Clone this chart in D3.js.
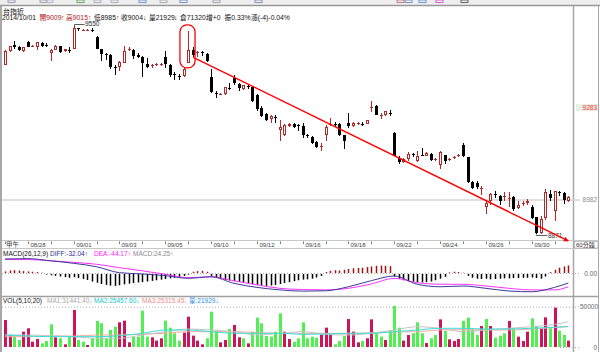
<!DOCTYPE html>
<html>
<head>
<meta charset="utf-8">
<title>台指近 60分鐘</title>
<style>
  html, body { margin: 0; padding: 0; background: #fff; }
  svg { display: block; }
  text { font-family: "Liberation Sans", "Noto Sans CJK TC", sans-serif; }
</style>
</head>
<body>
<svg id="chart" width="600" height="352"></svg>
<script src="https://cdn.jsdelivr.net/npm/d3@7"></script>
<script>
// 60-minute bars, 5 per trading day, 2014/08/27 .. 2014/10/01
const dayLabels = ['08/27','08/28','08/29','09/01','09/02','09/03','09/04','09/05','09/09','09/10',
  '09/11','09/12','09/15','09/16','09/17','09/18','09/19','09/22','09/23','09/24',
  '09/25','09/26','09/29','09/30','10/01'];

const opens = [9425,9471,9488,9484,9471,9498,9485,9483,9497,9489,
  9463,9474,9485,9470,9473,9477,9544,9537,9537,9539,
  9515,9475,9459,9458,9417,9418,9430,9473,9473,9458,
  9450,9428,9419,9424,9424,9449,9425,9393,9388,9387,
  9430,9472,9462,9465,9461,9383,9332,9328,9329,9350,
  9381,9363,9346,9356,9351,9327,9283,9265,9248,9255,
  9210,9194,9223,9232,9227,9223,9195,9189,9171,9157,
  9196,9230,9232,9231,9194,9234,9225,9231,9232,9232,
  9284,9288,9257,9259,9268,9201,9119,9106,9116,9131,
  9108,9130,9127,9134,9113,9098,9128,9113,9118,9126,
  9163,9122,9041,9038,9020,8958,8978,9001,8996,8993,
  8987,8991,8956,8971,8971,8958,8925,8874,8923,9002,
  8945,9009,9005,8978];
const highs = [9472,9487,9501,9486,9484,9503,9490,9499,9498,9495,
  9476,9489,9487,9477,9482,9550,9546,9540,9540,9544,
  9518,9477,9464,9460,9423,9438,9485,9482,9475,9462,
  9452,9447,9427,9430,9431,9468,9427,9401,9394,9414,
  9534,9482,9468,9468,9463,9412,9338,9333,9353,9365,
  9390,9365,9359,9362,9354,9329,9289,9267,9261,9259,
  9245,9231,9234,9234,9231,9234,9198,9191,9174,9168,
  9226,9250,9237,9234,9196,9267,9237,9237,9237,9245,
  9307,9292,9267,9274,9278,9205,9125,9119,9138,9136,
  9141,9152,9138,9136,9119,9143,9130,9119,9126,9133,
  9168,9124,9043,9043,9027,8980,9005,9013,8998,9008,
  9008,8994,8978,8980,8985,8967,8927,8929,9019,9016,
  9012,9013,9008,8994];
const lows = [9424,9465,9477,9470,9467,9482,9482,9474,9484,9482,
  9438,9472,9463,9467,9463,9476,9536,9536,9536,9531,
  9475,9438,9441,9412,9392,9403,9429,9468,9444,9448,
  9383,9414,9414,9419,9419,9414,9385,9376,9376,9384,
  9429,9449,9449,9452,9434,9332,9316,9325,9327,9343,
  9359,9340,9343,9346,9303,9272,9253,9239,9234,9234,
  9174,9191,9221,9218,9207,9185,9185,9165,9152,9141,
  9174,9223,9220,9190,9149,9218,9222,9226,9223,9231,
  9270,9259,9248,9257,9256,9125,9101,9104,9111,9122,
  9106,9125,9125,9109,9111,9085,9100,9109,9115,9122,
  9123,9038,9019,9019,8997,8936,8967,8989,8967,8978,
  8958,8945,8954,8961,8967,8921,8871,8872,8918,8980,
  8912,8994,8969,8975];
const closes = [9471,9486,9482,9472,9482,9483,9487,9498,9486,9487,
  9474,9487,9466,9476,9471,9545,9540,9539,9539,9536,
  9477,9460,9456,9416,9415,9432,9471,9475,9452,9450,
  9430,9416,9424,9426,9426,9427,9392,9390,9386,9411,
  9472,9458,9465,9462,9436,9335,9330,9330,9351,9347,
  9365,9349,9357,9351,9305,9281,9256,9245,9256,9251,
  9222,9229,9231,9220,9225,9194,9192,9168,9154,9159,
  9220,9232,9230,9194,9174,9223,9234,9233,9230,9243,
  9286,9261,9259,9272,9266,9127,9105,9116,9134,9129,
  9127,9128,9136,9112,9115,9138,9111,9115,9124,9128,
  9125,9041,9021,9026,9022,8972,9002,8998,8980,8995,
  8990,8954,8967,8973,8980,8923,8874,8920,9008,8989,
  9010,9007,8983,8991];

const volumes = [33500,14900,12800,8700,19000,23200,6600,9900,4500,7400,
  28100,12000,10800,3300,12800,45900,8700,6600,2500,10800,
  32300,29400,10800,21100,25200,30600,32700,5800,12800,12800,
  45100,12800,12000,7900,10800,32700,24000,17000,7900,17800,
  37600,14100,7900,3300,10800,43800,19900,5800,8700,22300,
  27300,12000,10800,4500,19000,36400,29400,13600,12800,19000,
  41800,19000,9900,6600,10800,30600,10800,12800,11600,15300,
  24000,14900,3300,7400,13600,34700,19000,5800,7400,10800,
  34300,17000,12800,8700,21100,50860,24000,7900,14900,17000,
  30600,17000,4900,10800,14900,34300,19900,9500,7400,9900,
  32300,36400,21900,14900,26000,34700,26000,11600,14100,17000,
  32300,23200,12800,7400,19000,35600,26000,22300,36800,23200,
  48800,20200,14900,7900];
// colour of each volume bar: u = crimson, d = green
const volDir = ('uudduuuudd' + 'dudududdud' + 'ddddduuudd' + 'dduuuddddu' + 'uuuuddduud' +
  'uududddddd' + 'duudd' + 'dddduuuddd' + 'uuuduuddud' + 'dduudddudd' + 'uduuuddddu' +
  'duddduduuu' + 'dduududdu').split('');

const macdHist = [5,8,9,8,6,5,4,3,1,
  -2,-4,-6,-8,-10,-12,-10,-13,-16,-19,-24,-28,-32,-35,-37,
  -38,-36,-33,-31,-29,-27,-26,-24,-22,-20,-18,-16,-14,-12,-9,-6,
  -2,4,6,7,4,
  -6,-12,-16,-19,-21,-23,-25,-27,-29,-32,-35,-37,-38,-37,-35,-32,-29,-26,-23,-20,
  -18,-17,-15,-11,-6,
  3,7,9,8,10,13,15,16,17,19,21,23,24,23,22,
  -8,-16,-20,-23,-25,-27,-27,-26,-24,-20,-15,-9,
  2,4,3,1,
  -6,-12,-15,-16,-15,-17,-16,-15,-14,-14,-13,-13,-12,-12,-11,-13,-15,
  -8,3,10,17,21,24.25];

// line indicators read at the first bar of every day (and the last bar)
const sampleBars = [0,5,10,15,20,25,30,35,40,45,50,55,60,65,70,75,80,85,90,95,100,105,110,115,120,123];
const diffLine = [45,46,39,31,20,1,-3,-8.5,-17,-12,-33,-46,-54,-58,-57,-44,-24.5,-9.6,-36,-44,-41.6,-49,-57.6,-60,-46,-32.04];
const deaLine = [43,43,39,34,28,17,7,-4,-15,-12,-25,-38,-49,-53,-54,-49,-35,-17,-31,-36,-36,-41.6,-49,-54,-54,-44.17];
const volMa1 = [14900,14900,14000,12800,10800,10800,14900,19000,22300,21100,19000,14900,17000,19000,15700,14900,17000,21100,25200,23200,19000,21100,23200,25200,28000,31441];
const volMa2 = [14900,13600,12800,12800,12800,14000,17000,21100,21100,19000,17000,17000,17000,15700,16000,17000,17000,19000,21100,23200,23200,22300,22300,23200,24500,25457];
const volMa3 = [12800,12800,13600,13600,14900,14900,16000,17000,19000,19000,19000,18000,17000,17000,17000,17000,17500,18500,19000,21100,21500,21100,21100,22300,24000,25315];

const priceMarks = [9283, 8982];
const highMark = { bar: 15, price: 9550 };
const lowMark = { bar: 116, price: 8871 };
const circleBars = [38.2, 41.5], circlePrices = [9555, 9414];
const trendBars = [41.1, 123], trendPrices = [9449, 8848];

const svg = d3.select('#chart');
const RED = '#b02828', CANDLE_BLACK = '#000';

const x = d3.scaleLinear().domain([0, opens.length - 1]).range([5, 568.3]);
const yP = d3.scaleLinear().domain([8982, 9283]).range([200, 108]);
const yM = d3.scaleLinear().domain([-32, 0]).range([283, 273]);
const yV = d3.scaleLinear().domain([0, 50000]).range([347, 306.7]);
const col = i => Math.round(x(i));
const half = v => Math.round(v) + 0.5;

// frame
svg.append('rect').attr('width', 600).attr('height', 5).attr('fill', '#eeeeee');
const icons = [[8,'#8090b0'],[40,'#9090a0'],[46,'#b0b0c0'],[77,'#40a040'],[94,'#a0a0b0'],[111,'#a0a0b0'],[139,'#5080d0'],[160,'#a0a0a0'],[180,'#6080c0'],[213,'#9090a0'],[255,'#7080a0'],[397,'#c06060'],[405,'#6080c0'],[419,'#5080d0'],[436,'#d040d0'],[461,'#404040']];
svg.append('g').selectAll('rect').data(icons).join('rect')
  .attr('x', d => d[0]).attr('y', 0).attr('width', 7).attr('height', 2.5)
  .attr('fill', 'none').attr('stroke', d => d[1]).attr('stroke-width', 0.8);
svg.append('line').attr('x1', 0).attr('x2', 600).attr('y1', 5.5).attr('y2', 5.5)
  .attr('stroke', '#999').attr('stroke-width', 1.6);

const frame = svg.append('g').attr('stroke', '#a8a8a8').attr('fill', 'none');
frame.append('line').attr('x1', 1).attr('x2', 1).attr('y1', 6).attr('y2', 352).attr('stroke-width', 2);
frame.append('line').attr('x1', 573.5).attr('x2', 573.5).attr('y1', 6).attr('y2', 352).attr('stroke-width', 1.5);
frame.append('line').attr('x1', 598.5).attr('x2', 598.5).attr('y1', 6).attr('y2', 352);
frame.append('line').attr('x1', 2).attr('x2', 599).attr('y1', 240.5).attr('y2', 240.5).attr('stroke', '#c8c8c8');
frame.append('line').attr('x1', 2).attr('x2', 599).attr('y1', 248.5).attr('y2', 248.5).attr('stroke', '#c8c8c8');
frame.append('line').attr('x1', 2).attr('x2', 599).attr('y1', 296.5).attr('y2', 296.5).attr('stroke', '#a0a0a0').attr('stroke-width', 1.5);

// header text
svg.append('text').attr('x', 3).attr('y', 13.5).attr('font-size', 7).attr('fill', '#111').text('台指近');
const info = [
  [2, '2014/10/01', '#111'], [39.5, '開9009', '#b01818'], [61, '↑', '#c02020'],
  [66, '高9015', '#b01818'], [88, '↑', '#c02020'], [94, '低8985', '#111'], [116, '↑', '#a02020'],
  [121, '收9004', '#111'], [143, '↓', '#111'], [149, '量21929', '#111'], [174, '↓', '#111'],
  [180, '倉71320', '#111'], [206, '增+0', '#111'], [224.5, '振0.33%', '#111'], [251, '漲(-4)-0.04%', '#111']];
svg.append('g').selectAll('text').data(info).join('text')
  .attr('x', d => d[0]).attr('y', 19.5).attr('font-size', 6.8).attr('fill', d => d[2]).text(d => d[1]);

// reference line and right labels
svg.append('line').attr('x1', 2).attr('x2', 580).attr('y1', half(yP(8982)) - 0.5).attr('y2', half(yP(8982)) - 0.5)
  .attr('stroke', '#d4d4d4').attr('stroke-width', 1.5);
svg.append('rect').attr('x', 576).attr('y', yP(priceMarks[0]) - 4).attr('width', 22).attr('height', 7).attr('fill', '#e4f1e4');
svg.selectAll('text.pl').data(priceMarks).join('text').attr('class', 'pl')
  .attr('x', 597).attr('y', d => yP(d) + 1.8).attr('text-anchor', 'end').attr('font-size', 6.5)
  .attr('fill', (d, i) => i === 0 ? '#ff2a2a' : '#8a8a8a').text(d => d);

// candles
const candles = svg.append('g');
d3.range(opens.length).forEach(i => {
  const o = opens[i], h = highs[i], l = lows[i], c = closes[i];
  const n = col(i), up = c >= o;
  const top = Math.round(yP(Math.max(o, c))), bot = Math.round(yP(Math.min(o, c)));
  const yh = Math.round(yP(h)), yl = Math.round(yP(l));
  const color = up ? RED : CANDLE_BLACK;
  if (up) {
    if (yh < top) candles.append('line').attr('x1', n + 0.5).attr('x2', n + 0.5).attr('y1', yh).attr('y2', top).attr('stroke', color);
    if (yl > bot) candles.append('line').attr('x1', n + 0.5).attr('x2', n + 0.5).attr('y1', bot).attr('y2', yl).attr('stroke', color);
    if (bot - top < 2) {
      candles.append('line').attr('x1', n - 1).attr('x2', n + 2).attr('y1', top + 0.5).attr('y2', top + 0.5).attr('stroke', color);
    } else {
      candles.append('rect').attr('x', n - 0.5).attr('y', top + 0.5).attr('width', 2).attr('height', bot - top - 1)
        .attr('fill', '#fff').attr('stroke', color);
    }
  } else {
    candles.append('line').attr('x1', n + 0.5).attr('x2', n + 0.5).attr('y1', yh).attr('y2', yl).attr('stroke', color);
    candles.append('rect').attr('x', n - 1).attr('y', top).attr('width', 3).attr('height', Math.max(1, bot - top)).attr('fill', color);
  }
});

// high / low markers
const hx = col(highMark.bar) + 0.5, hy = Math.round(yP(highMark.price)) - 1.5;
svg.append('path').attr('d', `M${hx},${hy + 2}V${hy}H${hx + 10}`).attr('fill', 'none').attr('stroke', '#333').attr('stroke-width', 0.8);
svg.append('text').attr('x', hx + 10.5).attr('y', hy + 1.5).attr('font-size', 6.5).attr('fill', '#222').text(highMark.price);
const lx = col(lowMark.bar) + 0.5, ly = Math.round(yP(lowMark.price)) + 1.5;
svg.append('path').attr('d', `M${lx},${ly - 1}V${ly}H${lx + 11}`).attr('fill', 'none').attr('stroke', '#333').attr('stroke-width', 0.8);
svg.append('text').attr('x', lx + 11.5).attr('y', ly + 2.5).attr('font-size', 6.5).attr('fill', '#333').text(lowMark.price);

// annotations
svg.append('defs').append('marker').attr('id', 'arr').attr('viewBox', '0 0 10 10')
  .attr('refX', 9).attr('refY', 5).attr('markerWidth', 6).attr('markerHeight', 5).attr('orient', 'auto')
  .attr('markerUnits', 'userSpaceOnUse')
  .append('path').attr('d', 'M0,0L10,5L0,10Z').attr('fill', '#ff0000');
svg.append('rect').attr('x', x(circleBars[0])).attr('y', yP(circlePrices[0]))
  .attr('width', x(circleBars[1]) - x(circleBars[0])).attr('height', yP(circlePrices[1]) - yP(circlePrices[0]))
  .attr('rx', 7).attr('fill', 'none').attr('stroke', '#ff0000').attr('stroke-width', 1.3);
svg.append('line').attr('x1', x(trendBars[0])).attr('y1', yP(trendPrices[0]))
  .attr('x2', x(trendBars[1])).attr('y2', yP(trendPrices[1]))
  .attr('stroke', '#ff0000').attr('stroke-width', 1.4).attr('marker-end', 'url(#arr)');

// date axis
const dayStarts = dayLabels.map((d, k) => k * 5);
svg.append('g').selectAll('line').data(dayStarts).join('line')
  .attr('x1', d => col(d) + 0.5).attr('x2', d => col(d) + 0.5).attr('y1', 241.5).attr('y2', 244)
  .attr('stroke', '#555').attr('stroke-width', 0.8);
svg.append('g').selectAll('text').data(dayLabels.filter((d, k) => k % 2 === 1)).join('text')
  .attr('x', (d, k) => col((2 * k + 1) * 5) + 2.5).attr('y', 246.5)
  .attr('font-size', 6).attr('fill', '#444').text(d => d);
svg.append('text').attr('x', 6).attr('y', 247).attr('font-size', 6.5).attr('fill', '#333').text('甲午');
svg.append('rect').attr('x', 574.5).attr('y', 241.5).attr('width', 23.5).attr('height', 6.5).attr('fill', 'none').attr('stroke', '#999').attr('stroke-width', 0.6);
svg.append('text').attr('x', 576).attr('y', 247).attr('font-size', 6).attr('fill', '#333').text('60分鐘');

// MACD pane
const macdLbl = [[3, 'MACD(26,12,9)', '#111'], [50, 'DIFF:-32.04↑', '#2c2c90'], [94, 'DEA:-44.17↑', '#ff20ff'], [133, 'MACD:24.25↑', '#8a8a8a']];
svg.append('g').selectAll('text').data(macdLbl).join('text')
  .attr('x', d => d[0]).attr('y', 255.5).attr('font-size', 6.5).attr('fill', d => d[2]).text(d => d[1]);
svg.append('line').attr('x1', 2).attr('x2', 580).attr('y1', yM(0) + 0.5).attr('y2', yM(0) + 0.5)
  .attr('stroke', '#aaa').attr('stroke-dasharray', '1,2');
svg.append('text').attr('x', 597).attr('y', yM(0) + 2.8).attr('text-anchor', 'end').attr('font-size', 6.5).attr('fill', '#666').text('0.00');
svg.append('g').selectAll('rect').data(macdHist).join('rect')
  .attr('x', (d, i) => col(i) - 0.25).attr('width', 1.5)
  .attr('y', d => d > 0 ? yM(d) : yM(0) + 1).attr('height', d => Math.abs(yM(d) - yM(0)))
  .attr('fill', d => d > 0 ? '#a01414' : '#000');
const lineFrom = (ys, yScale) => d3.line().x((d, k) => x(sampleBars[k])).y(d => yScale(d)).curve(d3.curveMonotoneX)(ys);
svg.append('path').attr('d', lineFrom(deaLine, yM)).attr('fill', 'none').attr('stroke', '#ff30ff');
svg.append('path').attr('d', lineFrom(diffLine, yM)).attr('fill', 'none').attr('stroke', '#3a3a98');

// volume pane
const volLbl = [[3, 'VOL(5,10,20)', '#111'], [47, 'MA1:31441.40↓', '#a8a8a8'], [94, 'MA2:25457.60↓', '#10c8c8'],
  [142, 'MA3:25315.45↓', '#f08c8c'], [189, '量:21929↓', '#2e8cf0']];
svg.append('g').selectAll('text').data(volLbl).join('text')
  .attr('x', d => d[0]).attr('y', 302.5).attr('font-size', 6.5).attr('fill', d => d[2]).text(d => d[1]);
svg.append('line').attr('x1', 2).attr('x2', 580).attr('y1', yV(50000) + 0.5).attr('y2', yV(50000) + 0.5)
  .attr('stroke', '#aaa').attr('stroke-dasharray', '1,2');
svg.append('line').attr('x1', 560).attr('x2', 580).attr('y1', yV(0) + 0.5).attr('y2', yV(0) + 0.5)
  .attr('stroke', '#aaa').attr('stroke-dasharray', '1,2');
svg.append('text').attr('x', 598).attr('y', yV(50000) + 2.5).attr('text-anchor', 'end').attr('font-size', 6.5).attr('fill', '#666').text('50000');
svg.append('text').attr('x', 597).attr('y', yV(0) + 2.5).attr('text-anchor', 'end').attr('font-size', 6.5).attr('fill', '#666').text('0');
svg.append('g').selectAll('rect').data(volumes).join('rect')
  .attr('x', (d, i) => col(i) - 1).attr('width', 3)
  .attr('y', d => yV(d)).attr('height', d => yV(0) - yV(d))
  .attr('fill', (d, i) => volDir[i] === 'u' ? '#cc1458' : '#50f050');
[[volMa3, '#f6a8a0'], [volMa1, '#c4c4c4'], [volMa2, '#38e0d8']].forEach(([vals, c]) => {
  svg.append('path').attr('d', lineFrom(vals, yV)).attr('fill', 'none').attr('stroke', c).attr('stroke-width', 1);
});
</script>
</body>
</html>
